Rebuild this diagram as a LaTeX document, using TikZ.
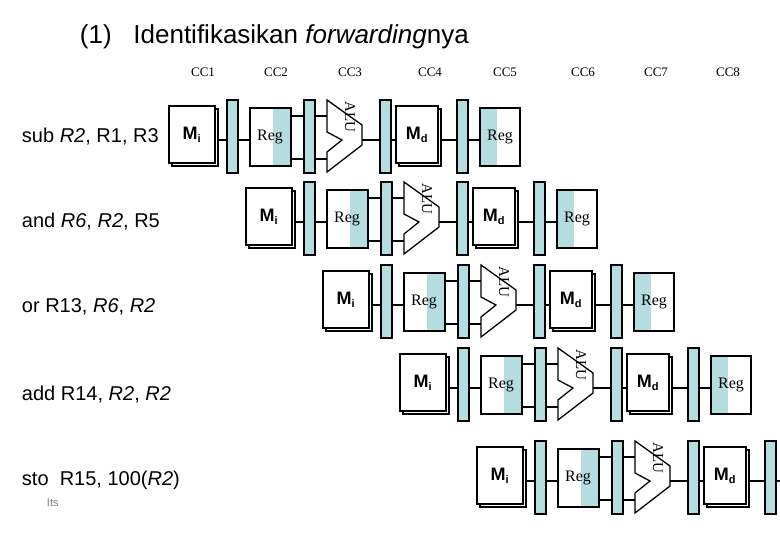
\documentclass[tikz,border=0pt]{standalone}
\usepackage{fontspec}
\setmainfont{Liberation Sans}
\newfontfamily\serif{Liberation Serif}
\definecolor{latch}{HTML}{B5DCDF}
\begin{document}
\begin{tikzpicture}[x=1pt,y=-1pt,line width=1.3pt,
  box/.style={draw,fill=white},
  latchbar/.style={draw,fill=latch},
  lbl/.style={font=\fontsize{20}{24}\selectfont,anchor=west},
  cc/.style={font=\serif\fontsize{13}{15}\selectfont}]
\useasboundingbox (0,0) rectangle (780,540);
\clip (0,0) rectangle (780,540);
\node[anchor=west,font=\fontsize{26}{30}\selectfont] (title) at (76,37) {(1)\ \ \ Identifikasikan \textit{forwarding}nya};
\foreach \t [count=\i] in {203,276,350,430,505,583,656,728}
  \node[cc] (cc\i) at (\t,72) {CC\i};
\node[lbl] (i1) at (18,137) {sub \textit{R2}, R1, R3};
\node[lbl] (i2) at (18,222) {and \textit{R6}, \textit{R2}, R5};
\node[lbl] (i3) at (18,307) {or R13, \textit{R6}, \textit{R2}};
\node[lbl] (i4) at (18,395) {add R14, \textit{R2}, \textit{R2}};
\node[lbl] (i5) at (18,480) {sto\ \ R15, 100(\textit{R2})};
\node[anchor=west,text=gray,font=\fontsize{11}{13}\selectfont] (its) at (43,503) {Its};
\foreach \X/\Y in {169/140,246/222,323/305,400/388,477/481}{
  \begin{scope}[shift={(\X,\Y)}]
    \draw (46,0)--(81,0);
    \draw (122,-24)--(158,-24) (122,19)--(158,19);
    \draw (193,0)--(227,0) (269,0)--(311,0);
    \draw[box] (3,-31) rectangle (49,26);
    \draw[box] (0,-34) rectangle (46,23);
    \node[font=\bfseries\fontsize{18}{20}\selectfont] at (23,-5) {M\textsubscript{\fontsize{11}{11}\selectfont i}};
    \foreach \l in {58,135,211,288} \draw[latchbar] (\l,-40) rectangle (\l+11,33);
    \draw[box] (81,-32) rectangle (122,26);
    \fill[latch] (104,-31.3) rectangle (121.3,25.3);
    \draw (81,-32) rectangle (122,26);
    \node[font=\serif\fontsize{16}{18}\selectfont] at (101,-3) {Reg};
    \draw[box] (158,-40)--(193,-15)--(193,5)--(158,32)--(158,12)--(173,0)--(158,-8)--cycle;
    \node[rotate=-90,font=\serif\fontsize{15}{17}\selectfont] at (181,-23) {ALU};
    \draw[box] (230,-31) rectangle (272,26);
    \draw[box] (227,-34) rectangle (269,23);
    \node[font=\bfseries\fontsize{18}{20}\selectfont] at (248,-5) {M\textsubscript{\fontsize{11}{11}\selectfont d}};
    \ifnum\X<450
    \draw[box] (311,-32) rectangle (351,26);
    \fill[latch] (311.7,-31.3) rectangle (328,25.3);
    \draw (311,-32) rectangle (351,26);
    \node[font=\serif\fontsize{16}{18}\selectfont] at (331,-3) {Reg};
    \fi
  \end{scope}}
\end{tikzpicture}
\end{document}
